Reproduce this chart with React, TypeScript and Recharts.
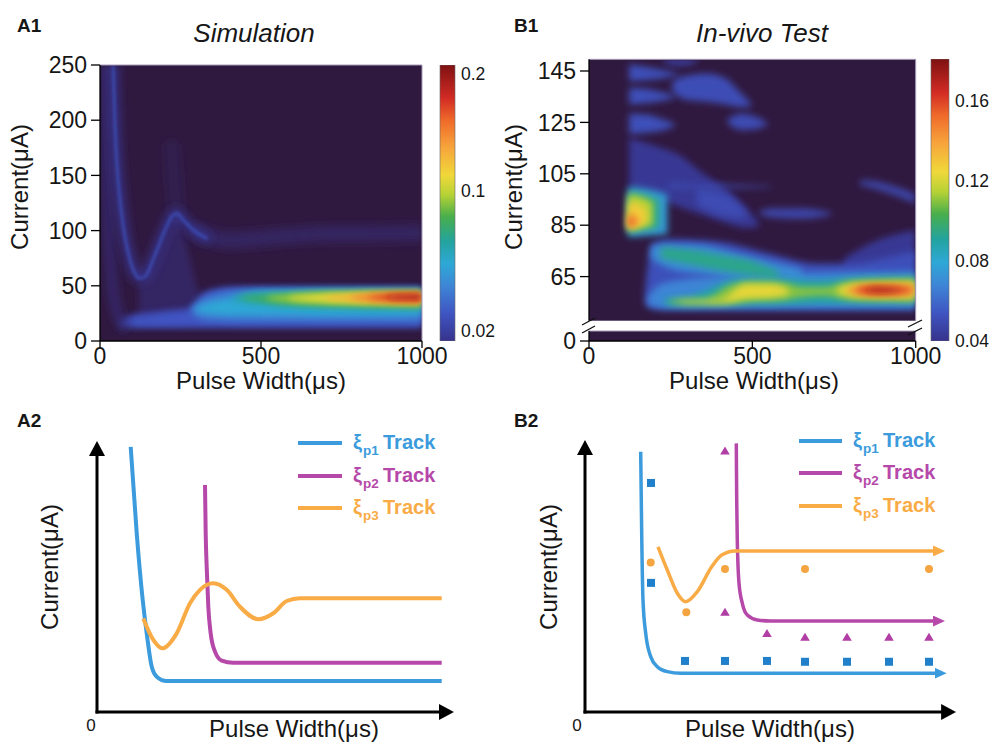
import React from 'react';
import {
  ComposedChart, BarChart, Bar, Area, Line, Scatter, XAxis, YAxis,
  CartesianGrid, ReferenceLine,
} from 'recharts';

const FONT = '"Liberation Sans", Arial, Helvetica, sans-serif';
const BG = '#30193f';
const INK = '#161616';
const FRAME = '#a99dba';

/* colour-bar stops (fraction of bar height, bottom -> top) */
const CMAP_STOPS: [number, string][] = [
  [0.0, '#37328c'], [0.1, '#3f55c2'], [0.2, '#3e86d6'], [0.28, '#2ea8d6'],
  [0.36, '#23a39f'], [0.45, '#48ae4c'], [0.53, '#b6d235'], [0.6, '#f0d83a'],
  [0.7, '#f7a53c'], [0.8, '#ef6a2a'], [0.88, '#d22b24'], [1.0, '#7e1212'],
];

/* ================= A1 : Simulation ================= */
const simXTicks = [0, 500, 1000];
const simYTicks = [0, 50, 100, 150, 200, 250];
const simCbarValues = [0.02, 0.1, 0.2];
const simCbarPos = [0.036, 0.543, 0.967];
const simCbarMinor = [0.051, 0.156, 0.257, 0.359, 0.464, 0.565, 0.667, 0.775, 0.88];

// filled contour regions: [pulse width, current low, current high]
const simWedge = [[120, 14, 50], [170, 14, 70], [210, 14, 95], [240, 14, 110], [270, 16, 85], [300, 20, 50], [320, 24, 32]];
const simC1 = [[65, 12.5, 18], [80, 12.5, 22], [200, 12.5, 27], [280, 12.5, 30], [320, 12.5, 44], [400, 12.5, 48.5], [1000, 12.5, 48.5]];
const simC2 = [[95, 13.5, 21], [200, 13.5, 25], [290, 13.5, 28], [330, 13.5, 42], [450, 13.5, 47.5], [1000, 13.5, 47.5]];
const simC3 = [[285, 25, 31], [330, 19, 40], [430, 18, 46], [1000, 18, 46.5]];
const simC4 = [[295, 27, 30], [340, 24.5, 35], [430, 23, 40], [500, 23, 45], [700, 22.5, 45.5], [1000, 23, 45.5]];
const simC5 = [[410, 37, 39.5], [460, 35, 42.5], [550, 32, 43.5], [700, 30, 44.5], [1000, 28, 44.8]];
const simC6 = [[440, 38, 40], [550, 34.5, 42], [700, 32.5, 44], [1000, 31.5, 44.5]];
const simC7 = [[520, 38, 40], [600, 36, 41.5], [700, 34.5, 43], [1000, 33, 44]];
const simC8 = [[590, 38, 40], [700, 36, 42], [850, 35, 43], [1000, 34, 43.5]];
const simC9 = [[700, 38.3, 40], [800, 36.5, 42], [1000, 35, 43]];
const simC10 = [[780, 38.5, 40], [870, 37, 42], [1000, 36, 42.5]];
const simC11 = [[840, 38.8, 40.2], [920, 37.5, 41.8], [1000, 37, 42]];
const simC12 = [[890, 39, 40.3], [950, 38.5, 41.3], [1000, 38.5, 41.5]];

// ridges: [pulse width, current]
const simRidge = [[41, 249], [43.5, 224], [46.6, 194], [51.8, 164], [60, 134], [72.4, 103.5], [88, 79.4], [103.5, 64.3], [122, 56.8], [140, 58.3], [160.5, 70.3], [181, 85.4], [202, 100.5], [222.6, 112.6], [238, 115.7], [258.7, 109.6], [289.8, 100.5], [331, 93]];
const simTail = [[300, 99], [400, 91], [500, 93], [700, 97], [1000, 97.5]];
const simLeftRidge = [[15, 254], [20, 164], [26, 104], [36, 58], [52, 28], [72, 13]];
const simPeakGlow = [[238, 116], [230, 145], [222, 175]];

/* ================= B1 : In-vivo test ================= */
const vivoXTicks = [0, 500, 1000];
const vivoYTicks = [65, 85, 105, 125, 145];
const vivoYDomain = [47.84, 149.55];
const vivoLowTicks = [0];
const vivoCbarDomain = [0.04, 0.181];
const vivoCbarTicks = [0.04, 0.08, 0.12, 0.16];
const vivoCbarMinor = [0.06, 0.1, 0.14];

const vivoFaint = [[123, 99, 119], [200, 96, 116], [280, 92, 112], [350, 89, 105], [420, 86, 99], [480, 84, 92], [520, 84.5, 86]];
const vivoFaintCore = [[330, 93, 99], [400, 89, 98], [450, 88, 94], [480, 88, 90]];
const vivoStreak = [[240, 99.5, 101], [400, 99.5, 100.8], [560, 99.8, 100.2]];
const vivoTopEdge = [[230, 148, 150.5], [280, 147, 150.5], [330, 148.5, 150.5]];
const vivoStripe1 = [[123, 141, 147.5], [180, 141.5, 146.5], [240, 142.5, 145], [275, 143.5, 144]];
const vivoStripe2 = [[123, 132, 138.5], [180, 132.5, 138], [230, 133.5, 136.5], [262, 134.5, 135.5]];
const vivoStripe3 = [[123, 120.5, 128.5], [180, 121, 128], [230, 122, 126], [262, 123.5, 124.5]];
const vivoBlob4 = [[255, 137, 141], [290, 134, 143], [360, 133, 144], [420, 132, 142], [460, 131, 137], [495, 131, 132.5]];
const vivoBlob5 = [[425, 124.5, 126.5], [470, 122, 128.5], [515, 122.5, 127], [545, 124, 125]];
const vivoMidBlob = [[520, 89.5, 90.2], [560, 88, 91.5], [650, 87.5, 91.5], [740, 89, 90]];
const vivoDiag = [[830, 100.5, 102.5], [880, 99, 102], [950, 96, 99.5], [1000, 93.5, 97]];
const vivoRightFaint = [[780, 66, 72], [880, 66, 79], [1000, 66, 83]];
const vivoOuter = [[172, 54, 60], [195, 52.5, 78], [250, 52, 79.5], [400, 52, 78.5], [550, 52, 74], [700, 52, 70], [800, 52, 70], [900, 52, 72], [1000, 52, 75]];
const vivoBlk1 = [[120, 80.5, 100], [180, 81, 99], [240, 81.5, 97]];
const vivoBlk2 = [[120, 82, 98], [170, 83, 97], [215, 84, 95]];
const vivoBlk3 = [[120, 83, 97], [160, 84, 96], [195, 85, 94]];
const vivoBlk4 = [[120, 83.5, 94], [150, 84.5, 93], [175, 86, 91]];
const vivoBlk5 = [[120, 84, 90], [135, 84.5, 89], [150, 85.5, 87.5]];
const vivoBlk6 = [[120, 84.5, 88], [135, 85.5, 87]];
const vivoArm1 = [[190, 72, 77], [250, 68, 77.5], [350, 66, 77], [450, 64, 74], [550, 62, 71], [650, 61, 68]];
const vivoArm2 = [[220, 72, 76.5], [300, 70, 75.5], [400, 67.5, 73.5], [500, 65.5, 71], [580, 64.5, 67]];
const vivoBand1 = [[180, 54, 57], [220, 52.8, 62], [300, 52.8, 64], [400, 52.8, 65], [500, 52.8, 66], [700, 52.8, 66.5], [1000, 52.8, 67]];
const vivoBand2 = [[230, 54, 56.5], [300, 53.8, 57], [400, 54, 62], [450, 54, 64], [550, 54, 64.5], [700, 54.5, 63.5], [800, 54.5, 64.5], [1000, 54.5, 65]];
const vivoBand3 = [[250, 54.5, 56], [350, 54.3, 56], [430, 54.5, 61.5], [500, 55.5, 63], [600, 56, 62.5], [650, 57, 61], [720, 57.5, 61], [800, 56, 63], [1000, 55.5, 64]];
const vivoBand4a = [[280, 54.8, 55.6], [400, 54.6, 55.8], [480, 56.5, 62], [560, 57, 62], [610, 58, 60]];
const vivoBand4b = [[760, 58.5, 60.5], [820, 57, 62.5], [1000, 56.5, 63]];
const vivoHot1 = [[790, 58.8, 60.2], [840, 57.8, 61.5], [950, 57.5, 62], [1000, 58, 61.5]];
const vivoHot2 = [[820, 59, 60.5], [860, 58.3, 61.2], [940, 58.5, 61], [980, 59, 60.5]];
const vivoHot3 = [[850, 59.3, 60], [880, 59, 60.6], [920, 59.1, 60.4], [950, 59.5, 60]];

/* ================= A2 : simulated tracks ================= */
const a2Track1 = [[9.41, 97.5], [11.09, 65.8], [12.77, 41.2], [13.88, 29.0], [15.28, 16.7], [16.68, 13.0], [19.47, 11.4], [96.28, 11.4]];
const a2Track2 = [[30.17, 83.5], [30.36, 65.7], [30.64, 53.4], [31.09, 38.7], [31.76, 28.9], [32.96, 22.2], [34.83, 18.9], [38.07, 18.1], [96.28, 18.1]];
const a2Track3 = [[12.93, 34.4], [15.73, 26.5], [18.24, 23.4], [22.26, 28.9], [25.98, 40.0], [28.77, 44.9], [32.49, 47.3], [36.23, 44.9], [39.94, 38.7], [45.06, 34.1], [49.25, 36.3], [52.99, 40.8], [56.7, 41.8], [96.28, 41.8]];

/* ================= B2 : in-vivo tracks ================= */
const b2Track1 = [[14.97, 95.3], [15.24, 65.5], [15.59, 41.0], [16.32, 28.8], [17.66, 20.3], [19.44, 16.6], [22.12, 14.8], [25.73, 14.2], [94.27, 14.2]];
const b2Track2 = [[40.67, 98.4], [40.78, 77.7], [40.94, 63.0], [41.4, 47.1], [42.29, 39.8], [43.63, 35.5], [46.32, 33.7], [49.92, 33.3], [93.82, 33.3]];
const b2Track3 = [[19.62, 60.5], [22.12, 52.0], [24.81, 43.5], [27.07, 40.4], [30.19, 44.1], [34.06, 53.2], [36.75, 57.5], [40.32, 59.0], [93.82, 59.0]];
const b2Meas1 = [[17.74, 83.9], [17.74, 47.3], [26.88, 18.7], [37.63, 18.7], [48.92, 18.7], [59.14, 18.4], [70.43, 18.4], [81.72, 18.4], [92.47, 18.4]];
const b2Meas2 = [[37.63, 95.6], [37.63, 36.5], [48.92, 28.8], [59.14, 27.4], [70.43, 27.4], [81.72, 27.4], [92.47, 27.4]];
const b2Meas3 = [[17.66, 54.8], [27.23, 36.5], [37.63, 52.4], [59.14, 52.4], [92.47, 52.4]];

const legendLabels = ['p1', 'p2', 'p3'];

/* ---------- colour helpers ---------- */
const C_BLUE = '#3b9bdc';
const C_MAG = '#b548a9';
const C_ORA = '#f9ab45';
const C_SQ = '#2180cc';
const C_TRI = '#b03ea5';
const C_CIR = '#f4a541';

function toRgb(h: string) {
  const n = parseInt(h.slice(1), 16);
  return [(n >> 16) & 255, (n >> 8) & 255, n & 255];
}
function colorAt(t: number): string {
  const x = Math.max(0, Math.min(1, t));
  for (let i = 1; i < CMAP_STOPS.length; i++) {
    const [t1, c1] = CMAP_STOPS[i];
    if (x <= t1) {
      const [t0, c0] = CMAP_STOPS[i - 1];
      const f = (x - t0) / (t1 - t0 || 1);
      const a = toRgb(c0), b = toRgb(c1);
      return `rgb(${a.map((v, k) => Math.round(v + (b[k] - v) * f)).join(',')})`;
    }
  }
  return CMAP_STOPS[CMAP_STOPS.length - 1][1];
}
function paint(t: number, fade: number) {
  return { fill: colorAt(t), opacity: t >= 0 ? 1 : Math.max(0.08, 1 + t / fade) };
}
function simT(v: number) {
  const i = v > simCbarValues[1] ? 1 : 0;
  return simCbarPos[i] + ((v - simCbarValues[i]) * (simCbarPos[i + 1] - simCbarPos[i])) / (simCbarValues[i + 1] - simCbarValues[i]);
}
function vivoT(v: number) {
  return (v - vivoCbarDomain[0]) / (vivoCbarDomain[1] - vivoCbarDomain[0]);
}

const tickFont = { fill: INK, fontSize: 23, fontFamily: FONT };
const axisStroke = { stroke: '#000', strokeWidth: 1.3 };

function HeatChart(props: any) {
  const { idp, box, margin, xDomain, yDomain, xTicks, yTicks, yWidth, levels, ridges, toT, fade, sigma, showX } = props;
  const sorted = [...levels].sort((a: any, b: any) => a.v - b.v);
  const px = margin.left + yWidth;
  const py = margin.top;
  const pw = box[2] - px - margin.right;
  const ph = box[3] - margin.top - margin.bottom - (showX ? 30 : 0);
  const fr = { filterUnits: 'userSpaceOnUse', x: -200, y: -200, width: 1400, height: 1200 } as any;
  return (
    <div className={'hm-' + idp} style={{ position: 'absolute', left: box[0], top: box[1] }}>
      <ComposedChart width={box[2]} height={box[3]} margin={margin}>
        <defs>
          <filter id={idp + '-fa'} {...fr}><feGaussianBlur stdDeviation={sigma} /></filter>
          <filter id={idp + '-fs'} {...fr}><feGaussianBlur stdDeviation={1} /></filter>
          <filter id={idp + '-fl'} {...fr}><feGaussianBlur stdDeviation={3.5} /></filter>
          <clipPath id={idp + '-clip'} clipPathUnits="userSpaceOnUse"><rect x={px} y={py} width={pw} height={ph} /></clipPath>
        </defs>
        <CartesianGrid fill={BG} stroke="none" horizontal={false} vertical={false} />
        <XAxis type="number" dataKey="x" domain={xDomain} ticks={xTicks} allowDataOverflow hide={!showX}
          height={30} tickSize={7} tickMargin={0} interval={0} tick={tickFont} tickLine={axisStroke} axisLine={axisStroke} />
        <YAxis type="number" domain={yDomain} ticks={yTicks} allowDataOverflow width={yWidth}
          tickSize={9} tickMargin={4} interval={0} tick={tickFont} tickLine={axisStroke} axisLine={axisStroke} />
        {sorted.map((L: any, i: number) => {
          const p = paint(toT(L.v), fade);
          return (
            <Area key={'lv' + i} data={L.data.map((d: number[]) => ({ x: d[0], r: [d[1], d[2]] }))}
              dataKey="r" type="monotoneX" stroke="none" fill={p.fill} fillOpacity={p.opacity}
              filter={`url(#${idp}-fa)`} clipPath={`url(#${idp}-clip)`}
              isAnimationActive={false} dot={false} activeDot={false} />
          );
        })}
        {(ridges || []).map((R: any, i: number) => {
          const p = paint(toT(R.v), fade);
          return (
            <Line key={'rd' + i} data={R.data.map((d: number[]) => ({ x: d[0], y: d[1] }))} dataKey="y"
              type={R.curve || 'monotoneX'} stroke={p.fill} strokeOpacity={p.opacity} strokeWidth={R.w}
              strokeLinecap="round" className={'rl-' + R.blur}
              filter={`url(#${idp}-${R.blur})`} clipPath={`url(#${idp}-clip)`}
              dot={false} activeDot={false} isAnimationActive={false} />
          );
        })}
        <ReferenceLine y={yDomain[1]} stroke={FRAME} strokeWidth={1} ifOverflow="visible" />
        <ReferenceLine x={xDomain[1]} stroke={FRAME} strokeWidth={1} ifOverflow="visible" />
      </ComposedChart>
    </div>
  );
}

function ColorBar(props: any) {
  const { box, margin, domain, ticks, fmt, minor } = props;
  return (
    <div style={{ position: 'absolute', left: box[0], top: box[1] }}>
      <BarChart width={box[2]} height={box[3]} margin={margin} data={[{ k: 'bar', r: domain }]} barCategoryGap={0} barGap={0}>
        <XAxis dataKey="k" hide />
        <YAxis yAxisId="lab" orientation="right" type="number" domain={domain} ticks={ticks} tickFormatter={fmt}
          width={40} tickLine={false} axisLine={false} tickSize={4} tickMargin={2} interval={0} allowDataOverflow
          tick={{ fill: INK, fontSize: 17.5, fontFamily: FONT }} />
        <Bar yAxisId="lab" dataKey="r" fill="url(#cbarGrad)" stroke="#6a6a6a" strokeWidth={0.6} isAnimationActive={false} />
        <YAxis yAxisId="minor" orientation="right" mirror type="number" domain={domain} ticks={minor} tick={false}
          tickLine={{ stroke: '#2a2a2a', strokeWidth: 1 }} tickSize={4} axisLine={false} interval={0} allowDataOverflow />
      </BarChart>
    </div>
  );
}

function TrackChart(props: any) {
  const { box, margin, curves, marks, xEnd, yEnd, width } = props;
  return (
    <div style={{ position: 'absolute', left: box[0], top: box[1] }}>
      <ComposedChart width={box[2]} height={box[3]} margin={margin}>
        <XAxis type="number" dataKey="x" domain={[0, 100]} hide allowDataOverflow />
        <YAxis type="number" dataKey="y" domain={[0, 100]} hide allowDataOverflow />
        <ReferenceLine segment={[{ x: 0, y: 0 }, { x: xEnd, y: 0 }]} stroke="#000" strokeWidth={3}
          strokeLinecap="square" markerEnd="url(#arrK)" ifOverflow="visible" />
        <ReferenceLine segment={[{ x: 0, y: 0 }, { x: 0, y: yEnd }]} stroke="#000" strokeWidth={3}
          strokeLinecap="square" markerEnd="url(#arrK)" ifOverflow="visible" />
        {curves.map((c: any, i: number) => (
          <Line key={'c' + i} data={c.data.map((d: number[]) => ({ x: d[0], y: d[1] }))} dataKey="y" type="monotoneX"
            stroke={c.color} strokeWidth={width} dot={false} activeDot={false} isAnimationActive={false}
            markerEnd={c.marker} strokeLinecap="butt" />
        ))}
        {(marks || []).map((m: any, i: number) => (
          <Scatter key={'m' + i} data={m.data.map((d: number[]) => ({ x: d[0], y: d[1] }))} dataKey="y"
            isAnimationActive={false} shape={(p: any) => m.shape(p.cx, p.cy)} />
        ))}
      </ComposedChart>
    </div>
  );
}

function LegendBlock(props: any) {
  const { x0, x1, tx, ys, colors } = props;
  return (
    <g>
      {ys.map((y: number, i: number) => (
        <g key={i}>
          <line x1={x0} x2={x1} y1={y} y2={y} stroke={colors[i]} strokeWidth={4} />
          <text x={tx} y={y + 6} fill={colors[i]} fontSize={20} fontWeight="bold" fontFamily={FONT}>
            <tspan>ξ</tspan>
            <tspan x={tx + 10} dy={6} fontSize={13.5}>{legendLabels[i]}</tspan>
            <tspan x={tx + 30} dy={-6}>Track</tspan>
          </text>
        </g>
      ))}
    </g>
  );
}

export default function App() {
  const simLevels = [
    { data: simWedge, v: 0.006 }, { data: simC1, v: 0.022 }, { data: simC2, v: 0.03 },
    { data: simC3, v: 0.042 }, { data: simC4, v: 0.058 }, { data: simC5, v: 0.07 },
    { data: simC6, v: 0.085 }, { data: simC7, v: 0.098 }, { data: simC8, v: 0.113 },
    { data: simC9, v: 0.136 }, { data: simC10, v: 0.16 }, { data: simC11, v: 0.18 },
    { data: simC12, v: 0.2 },
  ];
  const simRidges = [
    { data: simTail, v: 0.006, w: 16, blur: 'fl' },
    { data: simPeakGlow, v: 0.002, w: 16, blur: 'fl', curve: 'linear' },
    { data: simLeftRidge, v: 0.01, w: 8, blur: 'fl' },
    { data: simRidge, v: 0.016, w: 9, blur: 'fl' },
    { data: simRidge, v: 0.029, w: 2.2, blur: 'fs' },
  ];
  const vivoLevels = [
    { data: vivoFaint, v: 0.042 }, { data: vivoFaintCore, v: 0.05 }, { data: vivoStreak, v: 0.05 },
    { data: vivoTopEdge, v: 0.045 }, { data: vivoStripe1, v: 0.052 }, { data: vivoStripe2, v: 0.052 },
    { data: vivoStripe3, v: 0.052 }, { data: vivoBlob4, v: 0.051 }, { data: vivoBlob5, v: 0.05 },
    { data: vivoMidBlob, v: 0.048 }, { data: vivoDiag, v: 0.048 }, { data: vivoRightFaint, v: 0.042 },
    { data: vivoOuter, v: 0.052 },
    { data: vivoBlk1, v: 0.075 }, { data: vivoBlk2, v: 0.095 }, { data: vivoBlk3, v: 0.115 },
    { data: vivoBlk4, v: 0.128 }, { data: vivoBlk5, v: 0.145 }, { data: vivoBlk6, v: 0.155 },
    { data: vivoArm1, v: 0.07 }, { data: vivoArm2, v: 0.094 },
    { data: vivoBand1, v: 0.068 }, { data: vivoBand2, v: 0.09 }, { data: vivoBand3, v: 0.11 },
    { data: vivoBand4a, v: 0.123 }, { data: vivoBand4b, v: 0.123 },
    { data: vivoHot1, v: 0.145 }, { data: vivoHot2, v: 0.16 }, { data: vivoHot3, v: 0.175 },
  ];

  const sq = (cx: number, cy: number) => <rect x={cx - 4} y={cy - 4} width={8} height={8} fill={C_SQ} />;
  const tri = (cx: number, cy: number) => <polygon points={`${cx},${cy - 4.5} ${cx - 4.8},${cy + 3.5} ${cx + 4.8},${cy + 3.5}`} fill={C_TRI} />;
  const cir = (cx: number, cy: number) => <circle cx={cx} cy={cy} r={4} fill={C_CIR} />;

  const txt = { fontFamily: FONT, fill: INK } as any;

  return (
    <div style={{ position: 'absolute', left: 0, top: 0, width: 989, height: 743, background: '#fff', overflow: 'hidden', fontFamily: FONT }}>
      <style>{`
        .hm-A1 .recharts-area { filter: url(#A1-fa); clip-path: url(#A1-clip); }
        .hm-A1 .rl-fs { filter: url(#A1-fs); clip-path: url(#A1-clip); }
        .hm-A1 .rl-fl { filter: url(#A1-fl); clip-path: url(#A1-clip); }
        .hm-B1 .recharts-area { filter: url(#B1-fa); clip-path: url(#B1-clip); }
      `}</style>
      <svg width={1} height={1} style={{ position: 'absolute', left: 0, top: 0 }}>
        <defs>
          <linearGradient id="cbarGrad" x1="0" y1="1" x2="0" y2="0">
            {CMAP_STOPS.map(([t, c], i) => <stop key={i} offset={t} stopColor={c} />)}
          </linearGradient>
          <marker id="arrK" viewBox="0 0 15 16" refX={1} refY={8} markerWidth={15} markerHeight={16} orient="auto" markerUnits="userSpaceOnUse">
            <path d="M0,0 L15,8 L0,16 z" fill="#000" />
          </marker>
          {[['arrBlue', C_BLUE], ['arrMag', C_MAG], ['arrOra', C_ORA]].map(([id, c]) => (
            <marker key={id} id={id} viewBox="0 0 12 11" refX={1} refY={5.5} markerWidth={12} markerHeight={11} orient="auto" markerUnits="userSpaceOnUse">
              <path d="M0,0 L12,5.5 L0,11 z" fill={c} />
            </marker>
          ))}
        </defs>
      </svg>

      {/* A1 heatmap */}
      <HeatChart idp="A1" box={[0, 0, 470, 400]} margin={{ top: 65, right: 48, bottom: 29, left: 0 }}
        xDomain={[0, 1000]} yDomain={[0, 250]} xTicks={simXTicks} yTicks={simYTicks} yWidth={100}
        levels={simLevels} ridges={simRidges} toT={simT} fade={0.1} sigma={2.6} showX />
      <ColorBar box={[425, 0, 70, 360]} margin={{ top: 65, right: 0, bottom: 19, left: 15 }} domain={[0, 1]}
        ticks={simCbarPos} fmt={(p: number) => String(simCbarValues[simCbarPos.indexOf(p)])} minor={simCbarMinor} />

      {/* B1 heatmap (broken axis: upper + lower strip) */}
      <HeatChart idp="B1" box={[494, 0, 430, 330]} margin={{ top: 59.3, right: 8.3, bottom: 9.3, left: 0 }}
        xDomain={[0, 1000]} yDomain={vivoYDomain} xTicks={vivoXTicks} yTicks={vivoYTicks} yWidth={95}
        levels={vivoLevels} ridges={[]} toT={vivoT} fade={0.2} sigma={2.4} showX={false} />
      <HeatChart idp="B1low" box={[494, 320, 470, 80]} margin={{ top: 11, right: 48.3, bottom: 29, left: 0 }}
        xDomain={[0, 1000]} yDomain={[0, 3]} xTicks={vivoXTicks} yTicks={vivoLowTicks} yWidth={95}
        levels={[]} ridges={[]} toT={vivoT} fade={0.2} sigma={2} showX />
      <ColorBar box={[915, 0, 74, 360]} margin={{ top: 59, right: 0, bottom: 19, left: 16 }} domain={vivoCbarDomain}
        ticks={vivoCbarTicks} fmt={(v: number) => v.toFixed(2)} minor={vivoCbarMinor} />

      {/* A2 */}
      <TrackChart box={[0, 400, 494, 343]} margin={{ top: 40, right: 39, bottom: 31, left: 97 }} width={4}
        xEnd={95.8} yEnd={94.5}
        curves={[{ data: a2Track1, color: C_BLUE }, { data: a2Track2, color: C_MAG }, { data: a2Track3, color: C_ORA }]} />

      {/* B2 */}
      <TrackChart box={[494, 400, 495, 343]} margin={{ top: 39, right: 32, bottom: 31, left: 91 }} width={3.5}
        xEnd={96} yEnd={94.5}
        curves={[
          { data: b2Track1, color: C_BLUE, marker: 'url(#arrBlue)' },
          { data: b2Track2, color: C_MAG, marker: 'url(#arrMag)' },
          { data: b2Track3, color: C_ORA, marker: 'url(#arrOra)' },
        ]}
        marks={[{ data: b2Meas1, shape: sq }, { data: b2Meas2, shape: tri }, { data: b2Meas3, shape: cir }]} />

      {/* annotations */}
      <svg width={989} height={743} style={{ position: 'absolute', left: 0, top: 0, pointerEvents: 'none' }}>
        <text x={17} y={32} fontSize={19} fontWeight="bold" {...txt}>A1</text>
        <text x={514} y={32} fontSize={19} fontWeight="bold" {...txt}>B1</text>
        <text x={17} y={427} fontSize={19} fontWeight="bold" {...txt}>A2</text>
        <text x={514} y={427} fontSize={19} fontWeight="bold" {...txt}>B2</text>
        <text x={254} y={42} fontSize={26} fontStyle="italic" textAnchor="middle" {...txt}>Simulation</text>
        <text x={762} y={42} fontSize={26} fontStyle="italic" textAnchor="middle" {...txt}>In-vivo Test</text>
        <text x={261} y={389} fontSize={24} textAnchor="middle" {...txt}>Pulse Width(μs)</text>
        <text x={754} y={389} fontSize={24} textAnchor="middle" {...txt}>Pulse Width(μs)</text>
        <text x={294} y={737} fontSize={24} textAnchor="middle" {...txt}>Pulse Width(μs)</text>
        <text x={770} y={737} fontSize={24} textAnchor="middle" {...txt}>Pulse Width(μs)</text>
        <text transform="translate(28,187) rotate(-90)" fontSize={24} textAnchor="middle" {...txt}>Current(μA)</text>
        <text transform="translate(522,187) rotate(-90)" fontSize={24} textAnchor="middle" {...txt}>Current(μA)</text>
        <text transform="translate(58,567) rotate(-90)" fontSize={24} textAnchor="middle" {...txt}>Current(μA)</text>
        <text transform="translate(557,567) rotate(-90)" fontSize={24} textAnchor="middle" {...txt}>Current(μA)</text>
        <text x={91} y={731} fontSize={17} textAnchor="middle" {...txt}>0</text>
        <text x={577} y={731} fontSize={17} textAnchor="middle" {...txt}>0</text>
        {/* axis-break marks */}
        <g stroke="#111" strokeWidth={1.3}>
          <line x1={582} y1={325} x2={595} y2={318} />
          <line x1={582} y1={333} x2={595} y2={326} />
          <line x1={908} y1={327} x2={922} y2={320} />
          <line x1={908} y1={335} x2={922} y2={328} />
        </g>
        <LegendBlock x0={298} x1={342} tx={353} ys={[443, 476, 508]} colors={[C_BLUE, C_MAG, C_ORA]} />
        <LegendBlock x0={799} x1={842} tx={853} ys={[441, 473, 506]} colors={[C_BLUE, C_MAG, C_ORA]} />
      </svg>
    </div>
  );
}
